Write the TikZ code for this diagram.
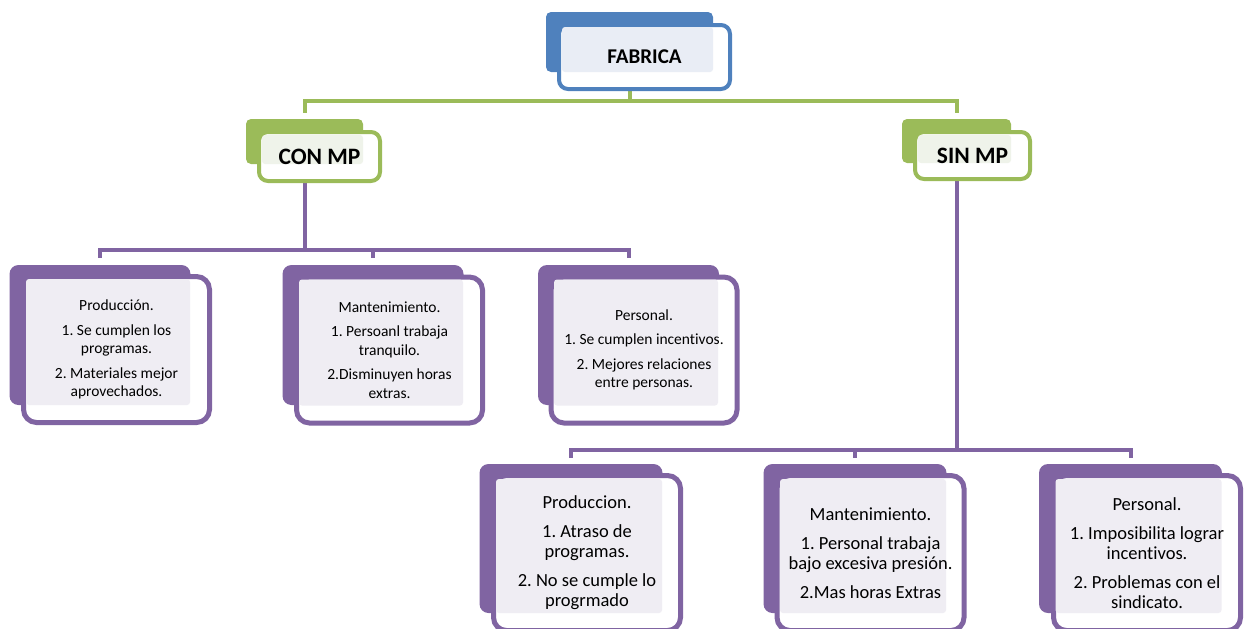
\documentclass[tikz,border=0pt]{standalone}
\usepackage{fontspec}
\setmainfont{Carlito}[Ligatures=NoCommon]
\usetikzlibrary{backgrounds}
\frenchspacing

\definecolor{azul}{HTML}{4F81BD}
\definecolor{azulclaro}{HTML}{E9EDF5}
\definecolor{verde}{HTML}{9BBB59}
\definecolor{verdeclaro}{HTML}{EFF3EA}
\definecolor{morado}{HTML}{8064A2}
\definecolor{moradoclaro}{HTML}{EFEDF3}

\begin{document}
\begin{tikzpicture}[x=1pt, y=-1pt, semithick,
  fondo/.style={rectangle, draw=none, inner sep=0pt, rounded corners=9pt},
  marco/.style={rectangle, fill=white, inner sep=0pt, line width=5pt, rounded corners=13pt},
  panel/.style={rectangle, inner sep=0pt, rounded corners=3pt},
  fondoU/.style={fondo, fill=morado, minimum width=181pt, minimum height=140pt},
  marcoU/.style={marco, draw=morado, minimum width=186pt, minimum height=146pt},
  panelU/.style={panel, fill=moradoclaro, minimum width=164pt, minimum height=126pt},
  fondoB/.style={fondo, fill=morado, minimum width=183pt, minimum height=149pt},
  marcoB/.style={marco, draw=morado, minimum width=187pt, minimum height=155pt},
  panelB/.style={panel, fill=moradoclaro, minimum width=166pt, minimum height=134pt},
  titulo/.style={font=\fontsize{23.5}{28}\selectfont\bfseries},
  texto/.style={align=center, font=\fontsize{15.5}{18.5}\selectfont},
  textob/.style={align=center, font=\fontsize{18.5}{20}\selectfont},
  liga/.style={line width=4pt, shorten >=6pt}]

  \useasboundingbox (0,0) rectangle (1250,629);

  % nivel 1
  \node [fondo,fill=azul,rounded corners=5pt,minimum width=167pt,minimum height=60pt] (fabB) at (629.5,42) {};
  \node [marco,draw=azul,line width=4pt,rounded corners=9pt,minimum width=171pt,minimum height=64pt] (fabF) at (644.5,57) {};
  \node [panel,fill=azulclaro,minimum width=151pt,minimum height=45pt] (fabP) at (637.5,49.5) {};
  \node [titulo,font=\fontsize{21}{25}\selectfont\bfseries] (fab) at (fabF) {FABRICA};

  % nivel 2
  \node [fondo,fill=verde,rounded corners=5pt,minimum width=117pt,minimum height=45pt] (conB) at (304.5,141.5) {};
  \node [marco,draw=verde,line width=4pt,rounded corners=9pt,minimum width=121pt,minimum height=49pt] (conF) at (319.5,156.5) {};
  \node [panel,fill=verdeclaro,minimum width=101pt,minimum height=29pt] (conP) at (312.5,149.5) {};
  \node [titulo] (con) at (conF) {CON MP};

  \node [fondo,fill=verde,rounded corners=5pt,minimum width=109pt,minimum height=44pt] (sinB) at (956.5,141) {};
  \node [marco,draw=verde,line width=4pt,rounded corners=9pt,minimum width=115pt,minimum height=47pt] (sinF) at (972.5,155.5) {};
  \node [panel,fill=verdeclaro,minimum width=93pt,minimum height=28pt] (sinP) at (964.5,149) {};
  \node [titulo] (sin) at (sinF) {SIN MP};

  % con MP
  \node [fondoU] (u1B) at (100,335) {};
  \node [marcoU] (u1F) at (116.5,349.5) {};
  \node [panelU] (u1P) at (108,342) {};
  \node [texto] (u1) at (u1F) {Producción.\\[6pt]1. Se cumplen los\\programas.\\[6pt]2. Materiales mejor\\aprovechados.};

  \node [fondoU] (u2B) at (373,335) {};
  \node [marcoU] (u2F) at (389.5,350) {};
  \node [panelU] (u2P) at (381,342.5) {};
  \node [texto] (u2) at (u2F) {Mantenimiento.\\[6pt]1. Persoanl trabaja\\tranquilo.\\[6pt]2.Disminuyen horas\\extras.};

  \node [fondoU] (u3B) at (628.5,335) {};
  \node [marcoU] (u3F) at (644,350) {};
  \node [panelU] (u3P) at (636,342.5) {};
  \node [texto] (u3) at (u3F) {Personal.\\[6pt]1. Se cumplen incentivos.\\[6pt]2. Mejores relaciones\\entre personas.};

  % sin MP
  \node [fondoB] (b1B) at (571,538.5) {};
  \node [marcoB] (b1F) at (587,553) {};
  \node [panelB] (b1P) at (579,546) {};
  \node [textob] (b1) at (b1F) {Produccion.\\[9pt]1. Atraso de\\programas.\\[9pt]2. No se cumple lo\\progrmado};

  \node [fondoB] (b2B) at (855,538.5) {};
  \node [marcoB] (b2F) at (870.5,553) {};
  \node [panelB] (b2P) at (863,546) {};
  \node [textob] (b2) at (b2F) {Mantenimiento.\\[9pt]1. Personal trabaja\\bajo excesiva presión.\\[9pt]2.Mas horas Extras};

  \node [fondoB] (b3B) at (1130.5,538.5) {};
  \node [marcoB] (b3F) at (1147,553) {};
  \node [panelB] (b3P) at (1138.5,546) {};
  \node [textob] (b3) at (b3F) {Personal.\\[9pt]1. Imposibilita lograr\\incentivos.\\[9pt]2. Problemas con el\\sindicato.};

  \coordinate (busA) at (0,101);
  \coordinate (busB) at (0,250);
  \coordinate (busC) at (0,450);

  \begin{scope}[on background layer]
    \draw [liga,verde] (fabB.south) -- (fabB.south |- busA) -| (conB.north);
    \draw [liga,verde] (fabB.south) -- (fabB.south |- busA) -| (sinB.north);
    \draw [liga,morado,shorten >=7pt] (conB.south) -- (conB.south |- busB) -| (u1B.north);
    \draw [liga,morado,shorten >=7pt] (conB.south) -- (conB.south |- busB) -| (u2B.north);
    \draw [liga,morado,shorten >=7pt] (conB.south) -- (conB.south |- busB) -| (u3B.north);
    \draw [liga,morado] (sinB.south) -- (sinB.south |- busC) -| (b1B.north);
    \draw [liga,morado] (sinB.south) -- (sinB.south |- busC) -| (b2B.north);
    \draw [liga,morado] (sinB.south) -- (sinB.south |- busC) -| (b3B.north);
  \end{scope}

\end{tikzpicture}
\end{document}
